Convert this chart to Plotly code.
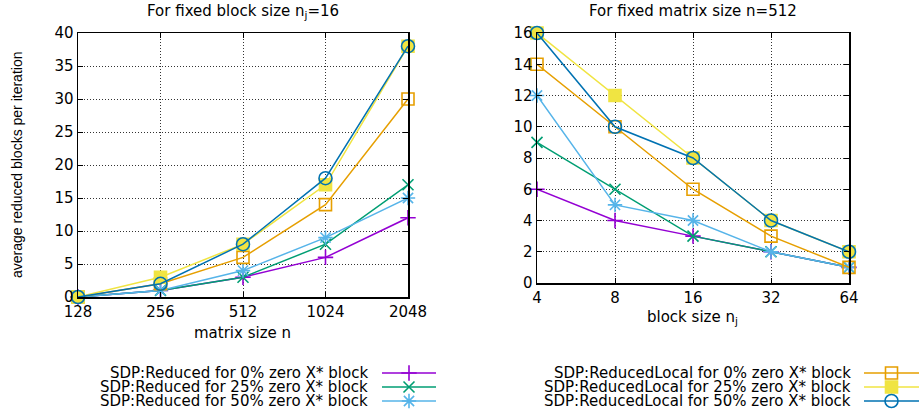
import math
import plotly.graph_objects as go

# ---------------- data ----------------
matrix_sizes = [128, 256, 512, 1024, 2048]
block_sizes = [4, 8, 16, 32, 64]

series_names = [
    "SDP:Reduced for 0% zero X* block",
    "SDP:Reduced for 25% zero X* block",
    "SDP:Reduced for 50% zero X* block",
    "SDP:ReducedLocal for 0% zero X* block",
    "SDP:ReducedLocal for 25% zero X* block",
    "SDP:ReducedLocal for 50% zero X* block",
]

# left panel: fixed block size n_j = 16
left_red_0 = [0, 1, 3, 6, 12]
left_red_25 = [0, 1, 3, 8, 17]
left_red_50 = [0, 1, 4, 9, 15]
left_loc_0 = [0, 2, 6, 14, 30]
left_loc_25 = [0, 3, 8, 17, 38]
left_loc_50 = [0, 2, 8, 18, 38]

# right panel: fixed matrix size n = 512
right_red_0 = [6, 4, 3, 2, 1]
right_red_25 = [9, 6, 3, 2, 1]
right_red_50 = [12, 5, 4, 2, 1]
right_loc_0 = [14, 10, 6, 3, 1]
right_loc_25 = [16, 12, 8, 4, 2]
right_loc_50 = [16, 10, 8, 4, 2]

left_yticks = [0, 5, 10, 15, 20, 25, 30, 35, 40]
right_yticks = [0, 2, 4, 6, 8, 10, 12, 14, 16]

# ---------------- styles ----------------
colors = ["#9400D3", "#009E73", "#56B4E9", "#E69F00", "#F0E442", "#0072B2"]
symbols = ["cross-thin-open", "x-thin-open", "asterisk-open", "square-open", "square", "circle-open"]
msizes = [11, 11, 12, 12, 12, 13]

W, H = 922, 414
FONT = "DejaVu Sans"
FS = 15
EPS = 1e-6


def px(x):
    return x / W


def py(y):
    return 1 - y / H


left_series = [left_red_0, left_red_25, left_red_50, left_loc_0, left_loc_25, left_loc_50]
right_series = [right_red_0, right_red_25, right_red_50, right_loc_0, right_loc_25, right_loc_50]

fig = go.Figure()


def marker_for(i):
    return dict(
        symbol=symbols[i],
        size=msizes[i],
        color=colors[i],
        line=dict(color=colors[i], width=1.6),
    )


for i, vals in enumerate(left_series):
    fig.add_trace(go.Scatter(
        x=matrix_sizes, y=vals, mode="lines+markers", name=series_names[i],
        line=dict(color=colors[i], width=1.5), marker=marker_for(i),
        xaxis="x", yaxis="y", showlegend=False, cliponaxis=False,
    ))
for i, vals in enumerate(right_series):
    fig.add_trace(go.Scatter(
        x=block_sizes, y=vals, mode="lines+markers", name=series_names[i],
        line=dict(color=colors[i], width=1.5), marker=marker_for(i),
        xaxis="x2", yaxis="y2", showlegend=False, cliponaxis=False,
    ))

# ---------------- manual legends (text left, sample right) ----------------
legend_rows_top, legend_row_h = 366, 14
for grp, (xa, ya) in enumerate([("x3", "y3"), ("x4", "y4")]):
    for r in range(3):
        i = grp * 3 + r
        fig.add_trace(go.Scatter(
            x=[0, 1], y=[r, r], mode="lines", line=dict(color=colors[i], width=1.5),
            xaxis=xa, yaxis=ya, showlegend=False, hoverinfo="skip",
        ))
        fig.add_trace(go.Scatter(
            x=[0.5], y=[r], mode="markers", marker=marker_for(i),
            xaxis=xa, yaxis=ya, showlegend=False, hoverinfo="skip", cliponaxis=False,
        ))

annotations = []
legend_text_right = [370, 853]
for grp in range(2):
    for r in range(3):
        i = grp * 3 + r
        yc = legend_rows_top + (r + 0.5) * legend_row_h
        annotations.append(dict(
            text=series_names[i], x=px(legend_text_right[grp]), y=py(yc),
            xref="paper", yref="paper", xanchor="right", yanchor="middle",
            showarrow=False, font=dict(family=FONT, size=FS, color="black"),
        ))

# titles
annotations += [
    dict(text="For fixed block size n<sub>j</sub>=16", x=px(243), y=py(11), xref="paper", yref="paper",
         xanchor="center", yanchor="middle", showarrow=False, font=dict(family=FONT, size=FS, color="black")),
    dict(text="For fixed matrix size n=512", x=px(693), y=py(11), xref="paper", yref="paper",
         xanchor="center", yanchor="middle", showarrow=False, font=dict(family=FONT, size=FS, color="black")),
    dict(text="matrix size n", x=px(243), y=py(333), xref="paper", yref="paper",
         xanchor="center", yanchor="middle", showarrow=False, font=dict(family=FONT, size=FS, color="black")),
    dict(text="block size n<sub>j</sub>", x=px(692), y=py(317), xref="paper", yref="paper",
         xanchor="center", yanchor="middle", showarrow=False, font=dict(family=FONT, size=FS, color="black")),
    dict(text="average reduced blocks per iteration", x=px(17), y=py(165), xref="paper", yref="paper",
         xanchor="center", yanchor="middle", textangle=-90, showarrow=False,
         font=dict(family="Liberation Sans", size=14, color="black")),
]

axis_common = dict(
    showline=True, linecolor="black", linewidth=1.5, mirror="ticks",
    ticks="inside", ticklen=5, tickcolor="black", tickwidth=1,
    showgrid=True, gridcolor="#333333", griddash="1px,2px", gridwidth=1,
    zeroline=False, automargin=False, tickfont=dict(family=FONT, size=FS, color="black"),
)

hidden = dict(visible=False, showgrid=False, zeroline=False, fixedrange=True, automargin=False)

lx0, lx1 = math.log10(matrix_sizes[0]), math.log10(matrix_sizes[-1])
rx0, rx1 = math.log10(block_sizes[0]), math.log10(block_sizes[-1])

fig.update_layout(
    width=W, height=H, margin=dict(l=0, r=0, t=0, b=0, pad=0, autoexpand=False),
    paper_bgcolor="white", plot_bgcolor="white",
    font=dict(family=FONT, size=FS, color="black"),
    showlegend=False,
    xaxis=dict(domain=[px(78), px(408)], anchor="y", type="log",
               range=[lx0 - EPS, lx1 + EPS],
               tickvals=matrix_sizes, ticktext=[str(v) for v in matrix_sizes], **axis_common),
    yaxis=dict(domain=[py(297), py(33)], anchor="x", range=[left_yticks[0] - EPS, left_yticks[-1] + EPS],
               tickvals=left_yticks, **axis_common),
    xaxis2=dict(domain=[px(537), px(849)], anchor="y2", type="log",
                range=[rx0 - EPS, rx1 + EPS],
                tickvals=block_sizes, ticktext=[str(v) for v in block_sizes], **axis_common),
    yaxis2=dict(domain=[py(283), py(33)], anchor="x2", range=[right_yticks[0] - EPS, right_yticks[-1] + EPS],
                tickvals=right_yticks, **axis_common),
    xaxis3=dict(domain=[px(382), px(436)], anchor="y3", range=[0, 1], **hidden),
    yaxis3=dict(domain=[py(408), py(366)], anchor="x3", range=[2.5, -0.5], **hidden),
    xaxis4=dict(domain=[px(864), px(919)], anchor="y4", range=[0, 1], **hidden),
    yaxis4=dict(domain=[py(408), py(366)], anchor="x4", range=[2.5, -0.5], **hidden),
    annotations=annotations,
)

fig.write_html(
    "out.html",
    config={"displayModeBar": False, "staticPlot": True},
    post_script="document.body.style.margin='0px'; document.body.style.overflow='hidden';",
)
